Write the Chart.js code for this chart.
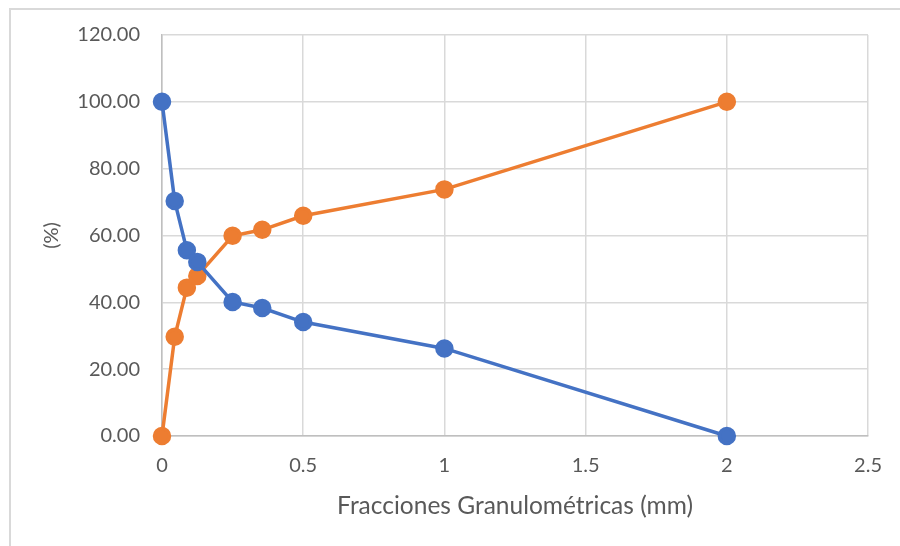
<!DOCTYPE html>
<html>
<head>
<meta charset="utf-8">
<script src="https://cdn.jsdelivr.net/npm/chart.js@4/dist/chart.umd.min.js"></script>
<style>
  html, body { margin: 0; padding: 0; background: #fff; overflow: hidden; }
  #frame { position: absolute; left: 9px; top: 8px; width: 1000px; height: 700px; border: 2px solid #d9d9d9; box-sizing: border-box; }
  #wrap { position: absolute; left: 0; top: 0; width: 900px; height: 546px; }
</style>
</head>
<body>
<div id="frame"></div>
<div id="wrap"><canvas id="granChart" width="900" height="546"></canvas></div>
<script>
// sieve openings (mm) and cumulative percentages
const fracciones = [0, 0.045, 0.088, 0.125, 0.25, 0.355, 0.5, 1, 2];
const pasante = [100, 70.3, 55.6, 52.1, 40.1, 38.3, 34.1, 26.2, 0];
const retenido = [0, 29.7, 44.4, 47.9, 59.9, 61.7, 65.9, 73.8, 100];
const xTicks = [0, 0.5, 1, 1.5, 2, 2.5];
const yTicks = [0, 20, 40, 60, 80, 100, 120];

const fontFam = "Lato, 'Open Sans', sans-serif";

function toPoints(xs, ys) {
    return xs.map((x, i) => ({ x: x, y: ys[i] }));
}

let ctx = document.getElementById('granChart').getContext('2d');

new Chart(ctx, {
    type: 'line',
    data: {
        datasets: [{
            label: 'Pasante',
            data: toPoints(fracciones, pasante),
            borderColor: '#4472C4',
            backgroundColor: '#4472C4',
            borderWidth: 3.5,
            pointRadius: 7.5,
            pointHoverRadius: 7.5,
            tension: 0,
            clip: false
        }, {
            label: 'Retenido',
            data: toPoints(fracciones, retenido),
            borderColor: '#ED7D31',
            backgroundColor: '#ED7D31',
            borderWidth: 3.5,
            pointRadius: 7.5,
            pointHoverRadius: 7.5,
            tension: 0,
            clip: false
        }]
    },
    options: {
        responsive: false,
        animation: false,
        layout: { padding: { left: 36, right: 31, top: 35, bottom: 25 } },
        plugins: { legend: { display: false }, tooltip: { enabled: false } },
        scales: {
            x: {
                type: 'linear',
                min: 0,
                max: 2.5,
                afterBuildTicks: axis => { axis.ticks = xTicks.map(v => ({ value: v })); },
                afterFit: axis => { axis.height = 85; },
                grid: { color: '#d9d9d9', lineWidth: 1.5, drawTicks: false },
                border: { color: '#bfbfbf', width: 1.5 },
                ticks: {
                    padding: 18,
                    color: '#595959',
                    font: { family: fontFam, size: 20 },
                    callback: v => String(v)
                },
                title: {
                    display: true,
                    text: 'Fracciones Granulométricas (mm)',
                    color: '#595959',
                    font: { family: fontFam, size: 24.5 },
                    padding: { top: 3, bottom: 0 }
                }
            },
            y: {
                min: 0,
                max: 120,
                afterBuildTicks: axis => { axis.ticks = yTicks.map(v => ({ value: v })); },
                afterFit: axis => { axis.width = 126; },
                grid: { color: '#d9d9d9', lineWidth: 1.5, drawTicks: false },
                border: { color: '#bfbfbf', width: 1.5 },
                ticks: {
                    padding: 22,
                    color: '#595959',
                    font: { family: fontFam, size: 20 },
                    callback: v => v.toFixed(2)
                },
                title: {
                    display: true,
                    text: '(%)',
                    color: '#595959',
                    font: { family: fontFam, size: 20 },
                    padding: { top: 4, bottom: 0 }
                }
            }
        }
    }
});
</script>
</body>
</html>
